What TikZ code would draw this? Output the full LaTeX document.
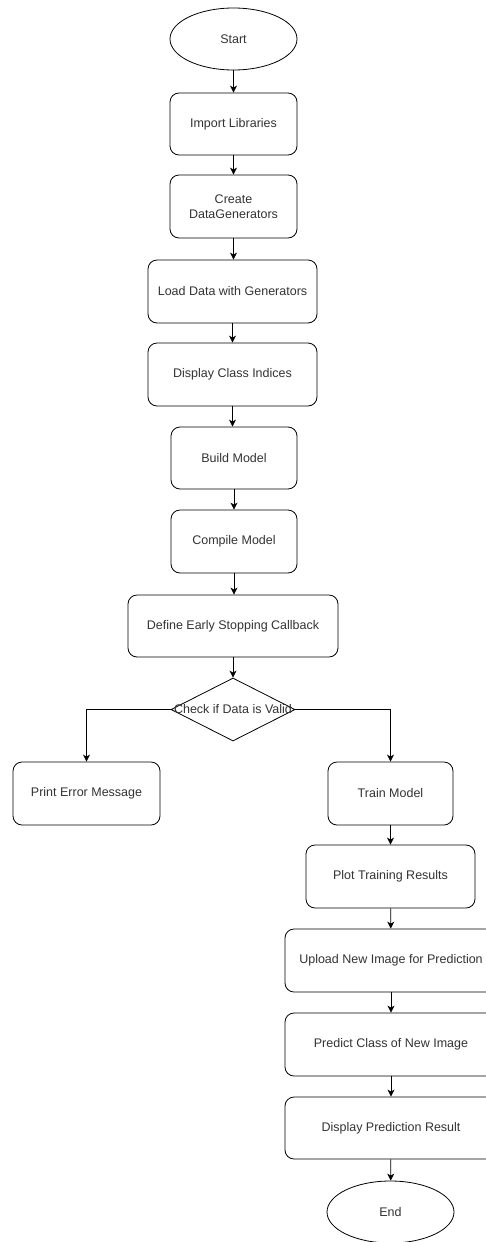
\documentclass[tikz,border=0pt]{standalone}
\usepackage{fontspec}
\setmainfont{Liberation Sans}
\usetikzlibrary{shapes.geometric,arrows.meta}
\definecolor{txt}{HTML}{333333}
\begin{document}
\begin{tikzpicture}[x=1pt,y=-1pt,
  every node/.style={font=\fontsize{12.5}{15}\selectfont, text=txt, align=center},
  box/.style={draw=black, line width=0.8pt, rounded corners=9pt, inner sep=0pt},
  oval/.style={draw=black, line width=0.8pt, ellipse, inner sep=0pt},
  decision/.style={draw=black, line width=0.8pt, diamond, inner sep=0pt},
  arr/.style={draw=black, line width=0.8pt, -{Stealth[length=7pt,width=7pt,inset=2pt]}}]
\useasboundingbox (0,0) rectangle (486,1242);
\fill[white] (0,0) rectangle (486,1242);
\node[oval, minimum width=127pt, minimum height=62pt] (start) at (233.5,39) {Start};
\node[box, minimum width=127pt, minimum height=62pt] (import) at (233.5,124) {Import Libraries};
\node[box, minimum width=127pt, minimum height=63pt] (create) at (233.5,206.5) {Create\\DataGenerators};
\node[box, minimum width=169pt, minimum height=63pt] (load) at (232.5,291.5) {Load Data with Generators};
\node[box, minimum width=169pt, minimum height=63pt] (classidx) at (232.5,374.5) {Display Class Indices};
\node[box, minimum width=126pt, minimum height=62pt] (build) at (234,458) {Build Model};
\node[box, minimum width=126pt, minimum height=63pt] (compile) at (234,541.5) {Compile Model};
\node[box, minimum width=210pt, minimum height=62pt] (define) at (233,626) {Define Early Stopping Callback};
\node[decision, minimum width=124pt, minimum height=63pt] (check) at (233,709.5) {};
\node (checktext) at (check.center) {Check if Data is Valid};
\node[box, minimum width=147pt, minimum height=63pt] (print) at (86.5,793.5) {Print Error Message};
\node[box, minimum width=125pt, minimum height=63pt] (train) at (390.5,793.5) {Train Model};
\node[box, minimum width=169pt, minimum height=63pt] (plot) at (390.5,876.5) {Plot Training Results};
\node[box, minimum width=212pt, minimum height=63pt] (upload) at (391,960.5) {Upload New Image for Prediction};
\node[box, minimum width=212pt, minimum height=63pt] (predict) at (391,1044.5) {Predict Class of New Image};
\node[box, minimum width=212pt, minimum height=62pt] (result) at (391,1128) {Display Prediction Result};
\node[oval, minimum width=127pt, minimum height=62pt] (end) at (390.5,1212) {End};
\draw[arr] (start) -- (import);
\draw[arr] (import) -- (create);
\draw[arr] (create.south) -- (create.south |- load.north);
\draw[arr] (load) -- (classidx);
\draw[arr] (classidx.south) -- (classidx.south |- build.north);
\draw[arr] (build) -- (compile);
\draw[arr] (compile.south) -- (compile.south |- define.north);
\draw[arr] (define) -- (check);
\draw[arr] (check.west) -| (print.north);
\draw[arr] (check.east) -| (train.north);
\draw[arr] (train) -- (plot);
\draw[arr] (plot) -- (upload);
\draw[arr] (upload) -- (predict);
\draw[arr] (predict) -- (result);
\draw[arr] (result) -- (end);
\end{tikzpicture}
\end{document}
